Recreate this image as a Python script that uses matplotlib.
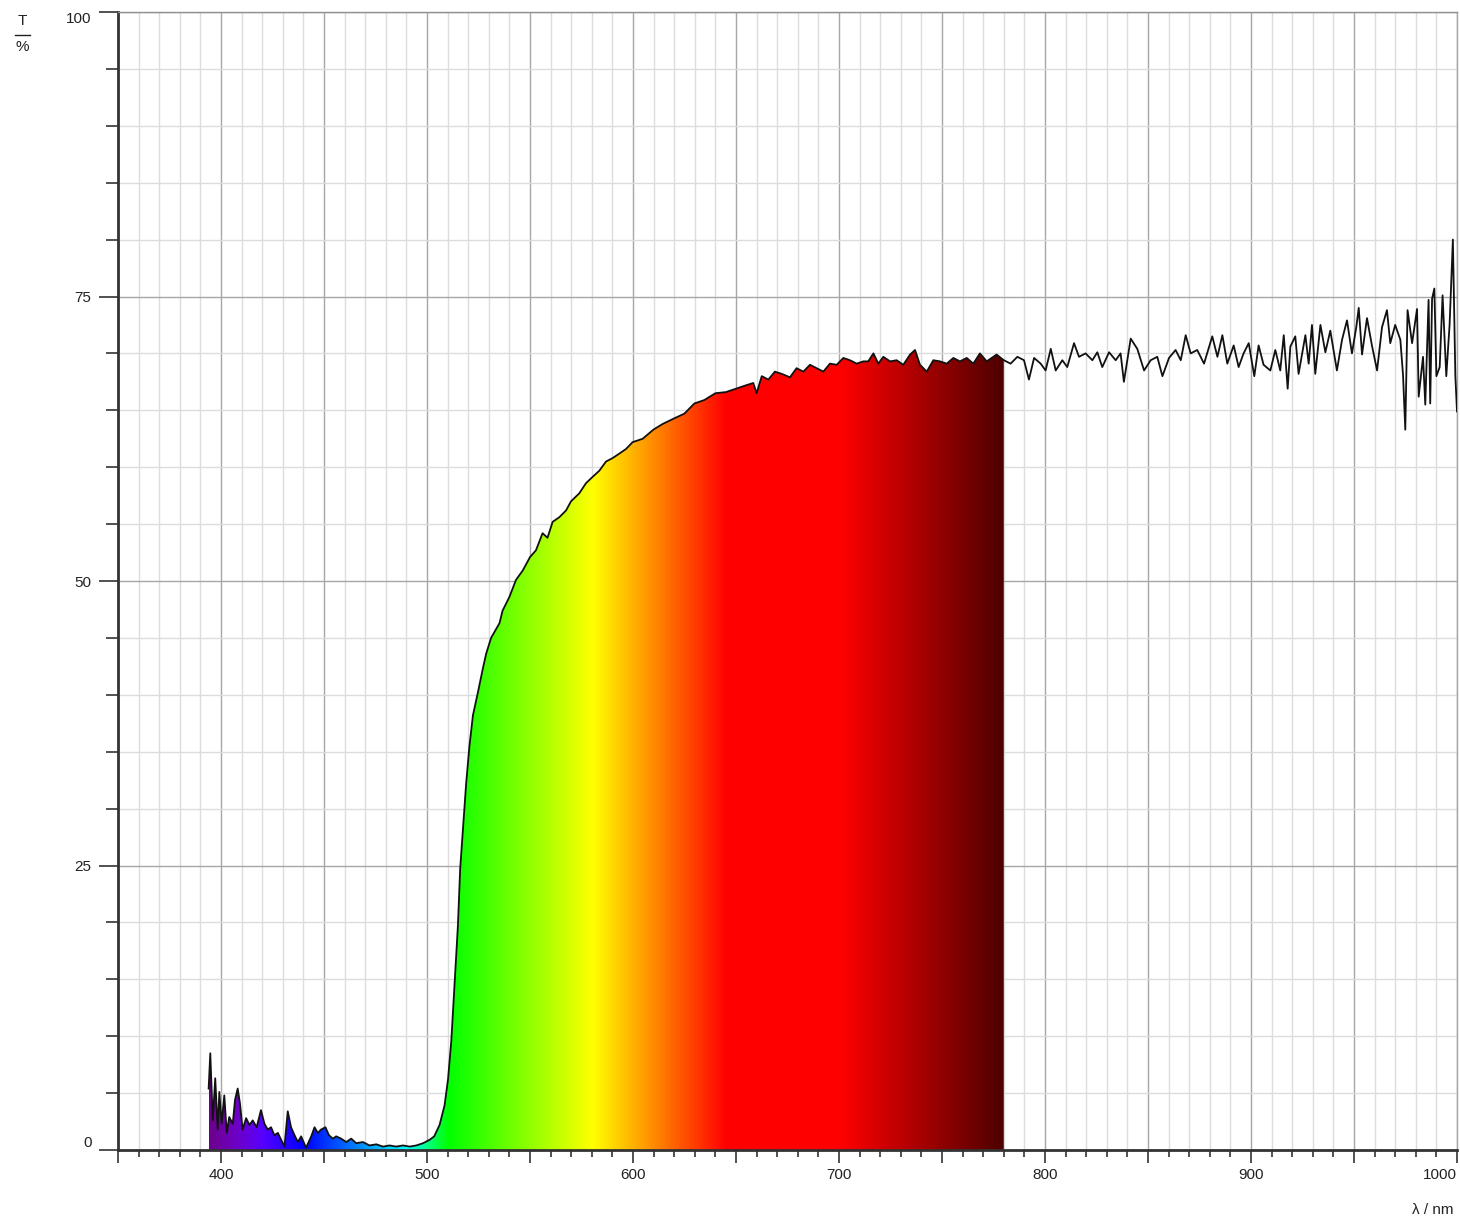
import numpy as np
import matplotlib
matplotlib.use('Agg')
import matplotlib.pyplot as plt
from matplotlib.ticker import MultipleLocator, FuncFormatter
from matplotlib.lines import Line2D

# ---------------- data ----------------
wavelength_nm = [
    394.0, 394.8, 396.0, 397.2, 398.4, 399.2, 400.3, 401.6, 402.8, 404.0,
    405.7, 406.8, 408.1, 409.2, 410.5, 412.2, 413.8, 415.4, 417.3, 419.4,
    421.1, 422.7, 424.3, 425.9, 427.6, 429.2, 430.8, 432.4, 434.0, 435.7,
    437.3, 438.9, 441.3, 443.8, 445.4, 447.0, 448.6, 450.7, 452.4, 454.3,
    455.9, 458.3, 460.8, 463.2, 465.6, 468.9, 472.1, 475.4, 478.6, 481.8,
    485.1, 488.3, 491.6, 494.8, 498.1, 501.3, 503.5, 506.1, 508.5, 510.2,
    511.8, 513.4, 515.0, 516.1, 517.4, 519.0, 520.6, 522.3, 524.7, 527.1,
    528.7, 531.1, 535.2, 536.7, 540.0, 543.2, 546.4, 550.0, 552.9, 556.1,
    558.5, 561.0, 564.2, 567.5, 569.9, 573.9, 577.2, 580.1, 583.7, 586.9,
    590.1, 593.4, 596.6, 599.8, 604.7, 609.9, 614.4, 620.1, 624.9, 629.8,
    634.6, 640.0, 645.1, 650.0, 654.9, 658.4, 660.0, 662.5, 665.7, 668.9,
    672.2, 676.2, 679.4, 682.7, 685.9, 689.2, 692.4, 695.6, 698.9, 702.1,
    705.3, 708.6, 711.8, 714.2, 716.7, 719.1, 721.5, 724.8, 728.0, 731.2,
    734.5, 736.9, 739.3, 742.6, 745.8, 749.0, 752.3, 755.5, 758.7, 762.0,
    765.2, 768.4, 771.7, 776.5, 780.0, 783.3, 786.6, 789.8, 792.2, 794.7,
    797.9, 800.3, 802.8, 805.2, 808.4, 810.8, 814.1, 816.5, 819.7, 823.0,
    825.4, 827.8, 831.1, 834.3, 836.7, 838.3, 841.6, 844.8, 848.1, 851.3,
    854.5, 857.0, 860.2, 863.4, 865.9, 868.3, 870.7, 873.9, 877.2, 881.2,
    883.7, 886.1, 888.5, 891.6, 894.0, 896.4, 898.9, 901.6, 903.7, 906.1,
    909.4, 911.8, 914.2, 915.9, 917.8, 919.1, 921.5, 923.1, 926.4, 928.0,
    929.6, 931.2, 933.7, 936.1, 938.5, 941.7, 944.2, 946.6, 949.0, 951.1,
    952.3, 953.9, 956.3, 958.7, 961.2, 963.6, 966.0, 967.6, 970.0, 972.5,
    973.8, 974.9, 976.0, 978.2, 980.6, 981.4, 983.5, 984.6, 986.2, 987.0,
    987.9, 989.0, 990.0, 991.6, 993.0, 994.8, 996.4, 998.0, 999.2, 1000.0,
]
transmission_pct = [
    5.4, 8.5, 2.6, 6.3, 1.8, 5.1, 2.3, 4.8, 1.5, 2.9,
    2.3, 4.4, 5.4, 4.1, 1.8, 2.8, 2.2, 2.6, 2.0, 3.5,
    2.3, 1.8, 2.0, 1.3, 1.5, 0.9, 0.3, 3.4, 2.0, 1.3,
    0.7, 1.2, 0.2, 1.2, 2.0, 1.5, 1.8, 2.0, 1.3, 1.0,
    1.2, 1.0, 0.7, 1.0, 0.6, 0.7, 0.4, 0.5, 0.3, 0.4,
    0.3, 0.4, 0.3, 0.4, 0.6, 0.9, 1.2, 2.2, 3.9, 6.2,
    9.6, 14.6, 19.7, 24.7, 28.1, 32.2, 35.5, 38.2, 40.2, 42.3,
    43.6, 45.0, 46.3, 47.4, 48.6, 50.1, 50.9, 52.1, 52.7, 54.2,
    53.8, 55.2, 55.6, 56.2, 57.0, 57.7, 58.6, 59.1, 59.7, 60.5,
    60.8, 61.2, 61.6, 62.2, 62.5, 63.3, 63.8, 64.3, 64.7, 65.6,
    65.9, 66.5, 66.6, 66.9, 67.2, 67.4, 66.5, 68.0, 67.7, 68.4,
    68.2, 67.9, 68.7, 68.4, 69.0, 68.7, 68.4, 69.1, 69.0, 69.6,
    69.4, 69.1, 69.3, 69.3, 70.0, 69.1, 69.7, 69.3, 69.4, 69.0,
    69.9, 70.3, 69.0, 68.4, 69.4, 69.3, 69.1, 69.6, 69.3, 69.6,
    69.1, 70.0, 69.3, 69.9, 69.4, 69.1, 69.7, 69.4, 67.7, 69.6,
    69.1, 68.5, 70.4, 68.5, 69.4, 68.8, 70.9, 69.7, 70.0, 69.4,
    70.1, 68.8, 70.1, 69.4, 70.0, 67.5, 71.3, 70.4, 68.5, 69.4,
    69.7, 68.0, 69.6, 70.3, 69.4, 71.6, 70.0, 70.3, 69.1, 71.5,
    69.7, 71.6, 69.1, 70.7, 68.8, 70.0, 70.9, 68.0, 70.7, 69.0,
    68.5, 70.3, 68.5, 71.6, 66.9, 70.6, 71.5, 68.2, 71.6, 69.1,
    72.5, 68.2, 72.5, 70.1, 72.0, 68.5, 71.2, 72.9, 70.0, 72.3,
    74.0, 69.9, 73.1, 70.7, 68.5, 72.3, 73.8, 70.9, 72.5, 71.2,
    68.1, 63.3, 73.8, 70.9, 73.9, 66.2, 69.7, 65.5, 74.7, 65.6,
    74.8, 75.7, 68.0, 68.8, 75.1, 68.0, 72.5, 80.0, 68.0, 64.9,
]
fill_end_nm = 780.0
x_label_ticks = [400, 500, 600, 700, 800, 900, 1000]
y_label_ticks = [0, 25, 50, 75, 100]


def spectral_rgb(w):
    """Approximate visible colour of a wavelength (Bruton)."""
    if w < 440:
        r, g, b = (440 - w) / 60.0, 0.0, 1.0
    elif w < 490:
        r, g, b = 0.0, (w - 440) / 50.0, 1.0
    elif w < 510:
        r, g, b = 0.0, 1.0, (510 - w) / 20.0
    elif w < 580:
        r, g, b = (w - 510) / 70.0, 1.0, 0.0
    elif w < 645:
        r, g, b = 1.0, (645 - w) / 65.0, 0.0
    else:
        r, g, b = 1.0, 0.0, 0.0
    if w < 420:
        f = 0.3 + 0.7 * (w - 380) / 40.0
    elif w > 700:
        f = 0.3 + 0.7 * (780 - w) / 80.0
    else:
        f = 1.0
    return [min(1, max(0, c * f)) for c in (r, g, b)]


plt.rcParams['font.family'] = ['Liberation Sans', 'DejaVu Sans']

W, H = 1460, 1220
fig = plt.figure(figsize=(W / 100, H / 100), dpi=100)
L, R, T, B = 118, 1457, 12, 1150
ax = fig.add_axes([L / W, 1 - B / H, (R - L) / W, (B - T) / H])
ax.set_xlim(350, 1000)
ax.set_ylim(0, 100)

wl = np.array(wavelength_nm)
tr = np.array(transmission_pct)

# spectral gradient fill under the curve
mask = wl <= fill_end_nm
poly = ax.fill_between(wl[mask], 0, tr[mask], facecolor='none', edgecolor='none', zorder=2)
grid_wl = np.arange(wl[0], fill_end_nm + 0.25, 0.5)
cols = np.array([spectral_rgb(w) for w in grid_wl])[None, :, :]
im = ax.imshow(cols, extent=[wl[0], fill_end_nm, 0, 100], aspect='auto',
               origin='lower', interpolation='bilinear', zorder=2)
im.set_clip_path(poly.get_paths()[0], transform=ax.transData)

ax.plot(wl, tr, color='#111111', lw=1.3, zorder=3)

# grid & ticks
ax.set_axisbelow(True)
ax.xaxis.set_major_locator(MultipleLocator(50))
ax.xaxis.set_minor_locator(MultipleLocator(10))
ax.yaxis.set_major_locator(MultipleLocator(25))
ax.yaxis.set_minor_locator(MultipleLocator(5))
ax.xaxis.set_major_formatter(FuncFormatter(
    lambda v, p: f'{int(round(v))}' if int(round(v)) in x_label_ticks else ''))
ax.yaxis.set_major_formatter(FuncFormatter(
    lambda v, p: f'{int(round(v))}' if int(round(v)) in y_label_ticks else ''))
ax.grid(which='major', color='#a6a6a6', lw=1.0)
ax.grid(which='minor', color='#dcdcdc', lw=1.0)

ax.tick_params(axis='x', which='major', length=9, width=1.2, color='#333333',
               labelsize=11, pad=4, labelcolor='#222222')
ax.tick_params(axis='x', which='minor', length=5, width=1.2, color='#333333')
ax.tick_params(axis='y', which='major', length=14, width=1.2, color='#333333',
               labelsize=11, pad=5, labelcolor='#222222')
ax.tick_params(axis='y', which='minor', length=9, width=1.2, color='#333333')

fig.canvas.draw()
for tick in ax.yaxis.get_major_ticks():
    v = tick.get_loc()
    if abs(v) < 1e-6:
        tick.label1.set_verticalalignment('bottom')
    elif abs(v - 100) < 1e-6:
        tick.label1.set_verticalalignment('top')
for tick in ax.xaxis.get_major_ticks():
    if abs(tick.get_loc() - 1000) < 1e-6:
        tick.label1.set_horizontalalignment('right')

ax.spines['left'].set_color('#333333')
ax.spines['left'].set_linewidth(2)
ax.spines['bottom'].set_color('#333333')
ax.spines['bottom'].set_linewidth(2)
ax.spines['top'].set_color('#909090')
ax.spines['top'].set_linewidth(1)
ax.spines['right'].set_color('#a6a6a6')
ax.spines['right'].set_linewidth(1)

# axis titles
fig.text(22 / W, 1 - 21 / H, 'T', ha='center', va='center', fontsize=11, color='#222222')
fig.add_artist(Line2D([15 / W, 30 / W], [1 - 35 / H, 1 - 35 / H], color='#222222', lw=1))
fig.text(22 / W, 1 - 47 / H, '%', ha='center', va='center', fontsize=11, color='#222222')
fig.text(1453 / W, 1 - 1210 / H, 'λ / nm', ha='right', va='center', fontsize=11, color='#222222')

fig.savefig('out.png', dpi=100)
